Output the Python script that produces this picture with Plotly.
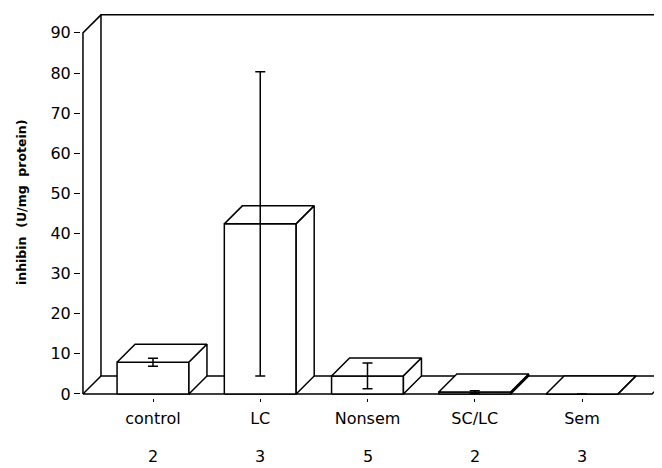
import plotly.graph_objects as go

# ---- data ----
categories = ["control", "LC", "Nonsem", "SC/LC", "Sem"]
n_samples = [2, 3, 5, 2, 3]
inhibin = [7.9, 42.4, 4.5, 0.5, 0.0]
inhibin_err = [1.0, 37.9, 3.2, 0.3, 0.0]
y_ticks = [0, 10, 20, 30, 40, 50, 60, 70, 80, 90]

# ---- pseudo-3D projection parameters (styling) ----
BAR_W = 0.67      # bar width in category units
PAD = 0.653       # floor overhang beyond first/last category
DX, DY = 0.168, 4.49   # depth offset (x in category units, y in data units)
YMAX = y_ticks[-1]

xs = list(range(len(categories)))
X0, X1 = xs[0] - PAD, xs[-1] + PAD
LINE = dict(color="black", width=1.5)

fig = go.Figure()

# back wall + y axis line
wx = [X0, X0, X0 + DX, X1 + 2 * DX, None, X0 + DX, X0 + DX]
wy = [0, YMAX, YMAX + DY, YMAX + DY, None, YMAX + DY, DY]
fig.add_trace(go.Scatter(x=wx, y=wy, mode="lines", line=LINE, hoverinfo="skip"))

# floor
fig.add_trace(go.Scatter(
    x=[X0, X1, X1 + DX, X0 + DX, X0], y=[0, 0, DY, DY, 0],
    mode="lines", fill="toself", fillcolor="white", line=LINE, hoverinfo="skip"))

# bars (front, top, side faces)
for c, v in zip(xs, inhibin):
    l, r = c - BAR_W / 2, c + BAR_W / 2
    faces = [
        ([l, r, r, l, l], [0, 0, v, v, 0]),
        ([l, l + DX, r + DX, r, l], [v, v + DY, v + DY, v, v]),
        ([r, r + DX, r + DX, r, r], [0, DY, v + DY, v, 0]),
    ]
    for fx, fy in faces:
        fig.add_trace(go.Scatter(x=fx, y=fy, mode="lines", fill="toself",
                                 fillcolor="white", line=LINE, hoverinfo="skip"))

# error bars
fig.add_trace(go.Scatter(
    x=xs, y=inhibin, mode="markers",
    marker=dict(size=1, color="rgba(0,0,0,0)"),
    error_y=dict(type="data", array=inhibin_err, visible=True,
                 color="black", thickness=1.5, width=5),
    hoverinfo="skip"))

# sample-size row under the category labels
annotations = [dict(text=str(n), x=c, xref="x", yref="paper", y=-0.151,
                    xanchor="center", yanchor="middle", showarrow=False,
                    font=dict(family="DejaVu Sans", size=16, color="black"))
               for c, n in zip(xs, n_samples)]
annotations.append(dict(
    text="inhibin\u00a0\u00a0(U/mg\u00a0\u00a0protein)",
    xref="paper", yref="paper", x=(13 - 73) / 581, y=0.5,
    xanchor="center", yanchor="middle", textangle=-90, showarrow=False,
    font=dict(family="DejaVu Sans", size=12.5, color="black", weight="bold")))

fig.update_layout(
    width=654, height=460,
    margin=dict(l=73, r=0, t=0, b=70),
    paper_bgcolor="white", plot_bgcolor="white",
    showlegend=False,
    font=dict(family="DejaVu Sans", color="black", size=16),
    xaxis=dict(range=[(73 - 145) / 107.25, (654 - 145) / 107.25],
               tickmode="array", tickvals=xs, ticktext=categories,
               ticks="outside", ticklen=3, tickwidth=1.2, tickcolor="black",
               ticklabelstandoff=3,
               showgrid=False, zeroline=False, showline=False,
               tickfont=dict(size=16)),
    yaxis=dict(range=[-1.0, 96.2], tickmode="array", tickvals=y_ticks,
               ticks="outside", ticklen=6, tickwidth=1.2, tickcolor="black",
               showgrid=False, zeroline=False, showline=False,
               tickfont=dict(size=16)),
    annotations=annotations,
)

fig.write_html("out.html")
